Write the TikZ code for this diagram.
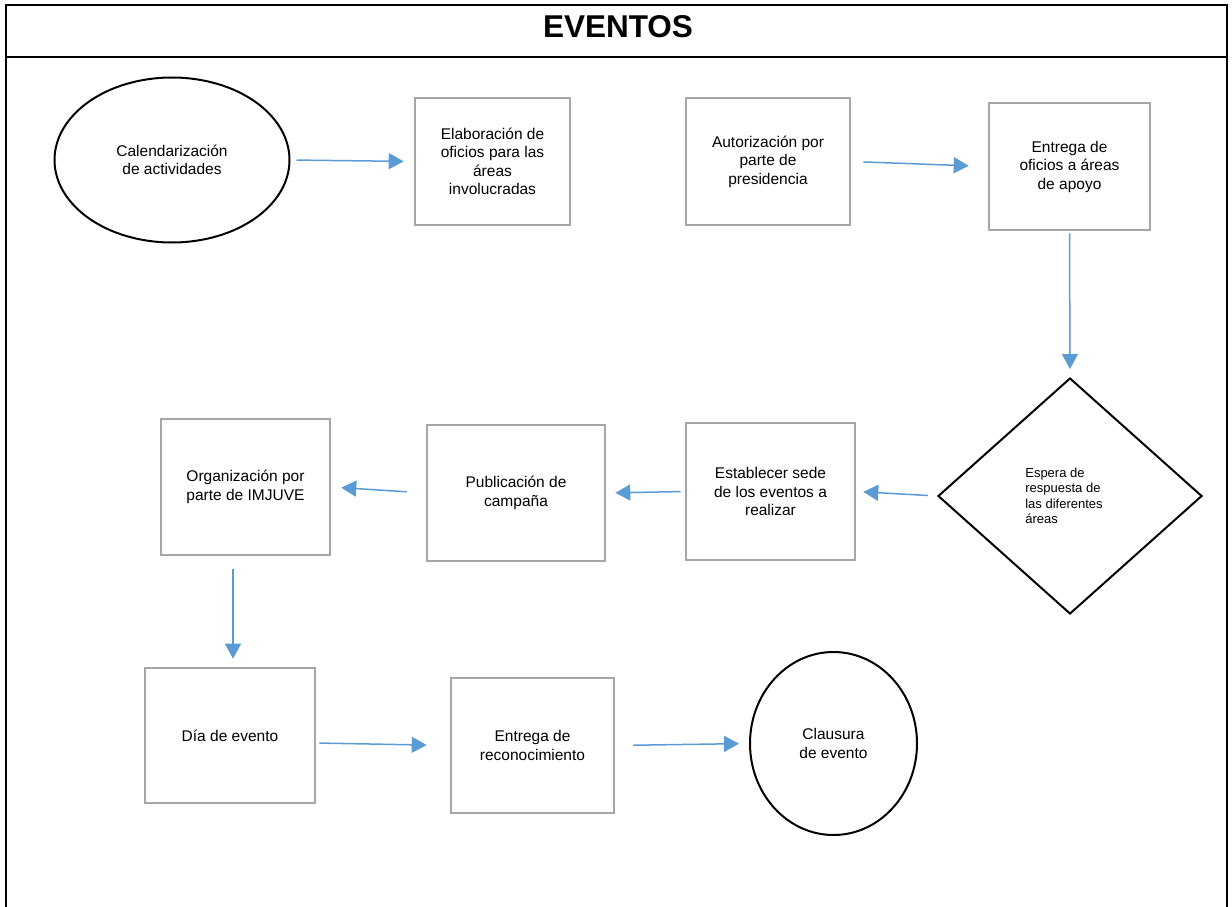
\documentclass[tikz,border=0pt]{standalone}
\usepackage{fontspec}
\setmainfont{Liberation Sans}
\usetikzlibrary{shapes.geometric,arrows.meta}
\definecolor{boxgray}{HTML}{A6A6A6}
\definecolor{arrowblue}{HTML}{5B9BD5}
\tikzset{
  stepbox/.style={draw=boxgray, line width=2.6pt, fill=white, rectangle, inner sep=0pt, align=center, font=\fontsize{15.5}{18.5}\selectfont},
  oval/.style={draw=black, line width=2pt, fill=white, ellipse, inner sep=0pt, align=center, font=\fontsize{15.5}{18.5}\selectfont},
  decision/.style={draw=black, line width=2pt, fill=white, diamond, inner sep=0pt, align=left, font=\fontsize{13}{15.5}\selectfont},
  flow/.style={draw=arrowblue, line width=1.5pt, -{Triangle[length=15pt,width=16pt]}},
  frame/.style={draw=black, line width=2pt}
}
\begin{document}
\begin{tikzpicture}[x=1pt,y=-1pt]
\useasboundingbox (0,0) rectangle (1232,907);
% frame
\draw[frame] (6,908) -- (6,5) -- (1227,5) -- (1227,908);
\draw[frame] (6,57) -- (1227,57);
\node[font=\fontsize{31.5}{36}\selectfont\bfseries] (title) at (618,27) {EVENTOS};
% nodes
\node[oval, minimum width=235pt, minimum height=165pt] (n1) at (172,160) {Calendarización\\de actividades};
\node[stepbox, minimum width=155pt, minimum height=127pt] (n2) at (492.5,161.5) {Elaboración de\\oficios para las\\áreas\\involucradas};
\node[stepbox, minimum width=164pt, minimum height=127pt] (n3) at (768,161.5) {Autorización por\\parte de\\presidencia};
\node[stepbox, minimum width=161pt, minimum height=127pt] (n4) at (1069.5,166.5) {Entrega de\\oficios a áreas\\de apoyo};
\node[decision, minimum width=264pt, minimum height=236pt] (n5) at (1070,496) {Espera de\\respuesta de\rule{12pt}{0pt}\\las diferentes\rule{12pt}{0pt}\\áreas};
\node[stepbox, minimum width=169pt, minimum height=137pt] (n6) at (770.5,491.5) {Establecer sede\\de los eventos a\\realizar};
\node[stepbox, minimum width=178pt, minimum height=136pt] (n7) at (516,493) {Publicación de\\campaña};
\node[stepbox, minimum width=169pt, minimum height=136pt] (n8) at (245.5,487) {Organización por\\parte de IMJUVE};
\node[stepbox, minimum width=170pt, minimum height=135pt] (n9) at (230,735.5) {Día de evento};
\node[stepbox, minimum width=163pt, minimum height=135pt] (n10) at (532.5,745.5) {Entrega de\\reconocimiento};
\node[oval, minimum width=167pt, minimum height=183pt] (n11) at (833.5,743.5) {Clausura\\de evento};
% connectors
\draw[flow, shorten <=6pt, shorten >=10pt] (n1.east) -- (n2.west);
\draw[flow, shorten <=12pt, shorten >=19pt] (n3.east) -- (n4.west);
\draw[flow, shorten <=2pt, shorten >=8pt] (n4.south) -- (n5.north);
\draw[flow, shorten <=9pt, shorten >=7pt] (n5.west) -- (n6.east);
\draw[flow, shorten <=4pt, shorten >=9pt] (n6.west) -- (n7.east);
\draw[flow, shorten <=19pt, shorten >=10pt] (n7.west) -- (n8.east);
\draw[flow, shorten <=13pt, shorten >=8pt] ([xshift=-12.5pt]n8.south) -- ([xshift=3pt]n9.north);
\draw[flow, shorten <=3pt, shorten >=23pt] ([yshift=-7.5pt]n9.east) -- (n10.west);
\draw[flow, shorten <=18pt, shorten >=10pt] (n10.east) -- (n11.west);
\end{tikzpicture}
\end{document}
